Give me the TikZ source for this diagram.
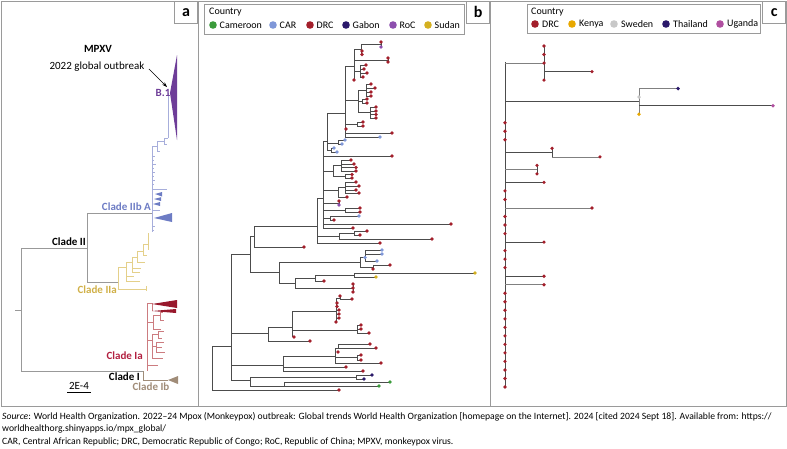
\documentclass[tikz,border=0pt]{standalone}
\usepackage{fontspec}
\setmainfont{Carlito}
\usetikzlibrary{arrows.meta}
\definecolor{drc}{HTML}{A31F2B}
\definecolor{car}{HTML}{7F97D8}
\definecolor{gab}{HTML}{2B1A6B}
\definecolor{roc}{HTML}{8D4FAE}
\definecolor{sud}{HTML}{D4B020}
\definecolor{cam}{HTML}{3B9B3B}
\definecolor{ken}{HTML}{E8A800}
\definecolor{swe}{HTML}{C8C8C8}
\definecolor{uga}{HTML}{B04FA0}
\definecolor{frm}{HTML}{9A9A9A}
\definecolor{blueL}{HTML}{A7AEDB}
\definecolor{blueT}{HTML}{6D7CC4}
\definecolor{purB}{HTML}{6E3D98}
\definecolor{yelL}{HTML}{E4D08A}
\definecolor{yelT}{HTML}{D0B048}
\definecolor{crL}{HTML}{CC7C80}
\definecolor{crT}{HTML}{B22040}
\definecolor{crD}{HTML}{98182C}
\definecolor{tanT}{HTML}{A08C78}
\newcommand\tdot[3]{\fill[#3] (#1,#2) circle (1.9);}
\newcommand\fA{\fontsize{11}{13}\selectfont}
\newcommand\fL{\fontsize{10}{12}\selectfont}
\newcommand\fC{\fontsize{9.65}{12}\selectfont}
\begin{document}
\begin{tikzpicture}[x=1pt,y=-1pt,
  frame/.style={draw=frm, line width=0.8pt},
  plbl/.style={draw=frm, line width=0.8pt, fill=white, minimum width=23, minimum height=22, inner sep=0pt, font=\fontsize{16}{16}\selectfont\bfseries},
  ga/.style={draw=gray!80, line width=0.8pt},
  bl/.style={draw=blueL, line width=0.7pt},
  yl/.style={draw=yelL, line width=0.7pt},
  cr/.style={draw=crL, line width=0.7pt},
  bb/.style={draw=black!70, line width=0.8pt},
  cb/.style={draw=black!70, line width=0.8pt},
  clab/.style={font=\fA\bfseries, inner sep=0pt},
  leg/.style={draw=frm, line width=0.8pt, fill=white}]
\useasboundingbox (0,0) rectangle (787,448);
% frames
\draw[frame] (1,1) rectangle (198,406);
\draw[frame] (198,1) rectangle (490,406);
\draw[frame] (490,1) rectangle (786,406);
\node[plbl, anchor=north east] (la) at (198,1) {a};
\node[plbl, anchor=north east] (lb) at (490,1) {b};
\node[plbl, anchor=north east] (lc) at (786,1) {c};

% ================= panel a =================
\draw[ga] (15,310) -- (21,310);
\draw[ga] (21,248) -- (21,371);
\draw[ga] (21,248) -- (87,248);
\draw[ga] (87,213) -- (87,282);
\draw[ga] (87,213) -- (152,213);
\draw[ga] (87,282) -- (118,282);
\draw[ga] (21,371) -- (143,371);
% clade IIb A (blue)
\draw[bl] (152,146) -- (152,232);
\draw[bl] (152,146) -- (157,146);
\draw[bl] (157,141) -- (157,151);
\draw[bl] (157,141) -- (164,141);
\draw[bl] (157,151) -- (160,151);
\draw[bl] (164,138) -- (164,144);
\draw[bl] (164,144) -- (167,144);
\draw[bl] (164,138) -- (168,138);
\draw[bl] (168,93) -- (168,138);
\foreach \yy/\ll in {156/3,160/2,164/4,168/2,172/3,176/2,180/3,184/2,226/3,230/2}
  \draw[bl] (152,\yy) -- ++(\ll,0);
\draw[bl] (152,189) -- (167,189);
\draw[bl] (152,210) -- (160,210);
\fill[blueT] (155,194) -- (162,192) -- (162,196.5) -- cycle;
\fill[blueT] (154,199) -- (161,197.2) -- (161,201) -- cycle;
\fill[blueT] (153,204) -- (160,202) -- (160,206) -- cycle;
\fill[blueT] (154,218) -- (172,213) -- (172,222) -- cycle;
% B.1
\fill[purB] (170,93) -- (177,55) -- (177,140) -- cycle;
% clade IIa (yellow)
\draw[yl] (118,267) -- (118,289);
\draw[yl] (118,289) -- (146,289);
\draw[yl] (146,286) -- (146,291);
\draw[yl] (118,267) -- (126,267);
\draw[yl] (126,262) -- (126,281);
\draw[yl] (126,281) -- (140,281);
\draw[yl] (126,276) -- (134,276);
\draw[yl] (126,262) -- (132,262);
\draw[yl] (132,257) -- (132,272);
\draw[yl] (132,272) -- (140,272);
\draw[yl] (132,268) -- (141,268);
\draw[yl] (132,257) -- (137,257);
\draw[yl] (137,251) -- (137,262);
\draw[yl] (137,262) -- (145,262);
\draw[yl] (137,251) -- (143,251);
\draw[yl] (143,244) -- (143,255);
\draw[yl] (143,255) -- (147,255);
\draw[yl] (143,244) -- (148,244);
\draw[yl] (148,233) -- (148,250);
% clade Ia (crimson)
\draw[cr] (147,303) -- (147,371);
\draw[cr] (147,303) -- (152,303);
\draw[cr] (152,303) -- (152,311);
\fill[crD] (152,304) -- (177,300) -- (177,308) -- cycle;
\fill[crD] (152,311) -- (176,309) -- (176,313) -- cycle;
\draw[cr] (147,322) -- (153,322);
\draw[cr] (153,315) -- (153,329);
\draw[cr] (153,315) -- (160,315);
\draw[cr] (160,312) -- (160,320);
\draw[cr] (160,312) -- (163,312);
\draw[cr] (160,320) -- (164,320);
\draw[cr] (153,329) -- (161,329);
\draw[cr] (147,340) -- (152,340);
\draw[cr] (152,334) -- (152,358);
\draw[cr] (152,334) -- (158,334);
\draw[cr] (158,331) -- (158,338);
\draw[cr] (158,331) -- (164,331);
\draw[cr] (158,338) -- (162,338);
\draw[cr] (152,346) -- (156,346);
\draw[cr] (156,342) -- (156,352);
\draw[cr] (156,342) -- (164,342);
\draw[cr] (156,347) -- (162,347);
\draw[cr] (156,352) -- (165,352);
\draw[cr] (152,358) -- (163,358);
\draw[cr] (147,365) -- (158,365);
% clade Ib (tan)
\draw[draw=tanT, line width=0.7pt] (143,371) -- (143,380) -- (168,380);
\fill[tanT] (168,380) -- (178,376) -- (178,384) -- cycle;
% labels panel a
\node[font=\fA\bfseries] (mpxv) at (98,49) {MPXV};
\node[font=\fA] (outb) at (97,67) {2022 global outbreak};
\coordinate (arrEnd) at (167,87);
\draw[-{Stealth[length=5pt,width=3.5pt]}, line width=0.6pt] (outb.east) ++(1,2) -- (arrEnd);
\node[clab, text=purB] (b1) at (163,93) {B.1};
\node[clab, text=blueT, anchor=east] (c2ba) at (151,207) {Clade IIb A};
\node[clab, anchor=east] (c2) at (86,242) {Clade II};
\node[clab, text=yelT, anchor=east] (c2a) at (117,290) {Clade IIa};
\node[clab, text=crT, anchor=east] (c1a) at (143,356) {Clade Ia};
\node[clab, anchor=east] (c1) at (140,377) {Clade I};
\node[clab, text=tanT] (c1b) at (151,387) {Clade Ib};
\node[font=\fA, inner sep=0pt] (sc) at (79,386) {2E-4};
\draw[line width=0.7pt] (67,392) -- (91,392);

% ================= panel b =================
\node[leg, anchor=north west, minimum width=260, minimum height=30] (legb) at (204,4) {};
\node[font=\fL, anchor=west, inner sep=0pt] (cb1) at (209,12) {Country};
\foreach \xx/\cc/\tt in {213/cam/Cameroon,273/car/CAR,310/drc/DRC,346/gab/Gabon,393/roc/RoC,428/sud/Sudan}{
  \fill[\cc] (\xx,25) circle (3.8);
  \node[font=\fL, anchor=west, inner sep=0pt] at (\xx+6.5,25) {\tt};
}
% root
\draw[bb] (212,346) -- (212,390);
\draw[bb] (212,390) -- (339,390); \tdot{339}{390}{drc}
\draw[bb] (212,346) -- (231,346);
% N1
\draw[bb] (231,254) -- (231,380);
\draw[bb] (231,254) -- (250,254);
\draw[bb] (231,333) -- (268,333);
\draw[bb] (231,365) -- (283,365);
\draw[bb] (231,380) -- (250,380);
% N2
\draw[bb] (250,236) -- (250,272);
\draw[bb] (250,236) -- (254,236);
\draw[bb] (250,272) -- (279,272);
% N4
\draw[bb] (279,262) -- (279,283);
\draw[bb] (279,262) -- (360,262);
\draw[bb] (279,283) -- (295,283);
\draw[bb] (360,257) -- (360,267);
\draw[bb] (360,257) -- (365,257);
\draw[bb] (365,250) -- (365,261);
\draw[bb] (365,250) -- (382,250); \tdot{382}{250}{car}
\draw[bb] (365,254) -- (382,254); \tdot{382}{254}{car}
\tdot{365}{257.5}{car}
\draw[bb] (365,261) -- (377,261); \tdot{377}{261}{car}
\draw[bb] (360,267) -- (373,267);
\draw[bb] (373,265) -- (373,269);
\draw[bb] (373,265) -- (390,265); \tdot{390}{265}{drc}
\tdot{373}{269}{drc}
\draw[bb] (295,278) -- (295,288);
\draw[bb] (295,278) -- (315,278);
\draw[bb] (315,275) -- (315,281);
\draw[bb] (315,275) -- (354,275);
\draw[bb] (354,273) -- (354,277);
\draw[bb] (354,273) -- (475,273); \tdot{475}{273}{sud}
\draw[bb] (354,277) -- (376,277); \tdot{376}{277}{sud}
\draw[bb] (315,281) -- (324,281); \tdot{324}{281}{drc}
\draw[bb] (295,288) -- (353,288);
\draw[bb] (353,284) -- (353,292);
\tdot{353}{284}{drc}\tdot{353}{288}{drc}\tdot{353}{292}{drc}
% N3
\draw[bb] (254,226) -- (254,247);
\draw[bb] (254,226) -- (317,226);
\draw[bb] (254,247) -- (304,247); \tdot{304}{247}{drc}
% Q
\draw[bb] (317,198) -- (317,243);
\draw[bb] (317,198) -- (323,198);
\draw[bb] (317,236) -- (339,236);
\draw[bb] (339,233) -- (339,239);
\draw[bb] (339,233) -- (354,233);
\draw[bb] (354,231) -- (354,235);
\draw[bb] (354,231) -- (367,231); \tdot{367}{231}{drc}
\draw[bb] (354,235) -- (360,235); \tdot{360}{235}{drc}
\draw[bb] (339,239) -- (432,239); \tdot{432}{239}{drc}
\draw[bb] (317,243) -- (380,243); \tdot{380}{243}{drc}
% R
\draw[bb] (323,141) -- (323,228);
\draw[bb] (323,141) -- (327,141);
\draw[bb] (323,156) -- (392,156); \tdot{392}{156}{drc}
\draw[bb] (323,171) -- (333,171);
\draw[bb] (333,165) -- (333,176);
\draw[bb] (333,165) -- (341,165);
\draw[bb] (341,160) -- (341,171);
\draw[bb] (341,160) -- (351,160); \tdot{351}{160}{drc}
\draw[bb] (341,164) -- (354,164); \tdot{354}{164}{drc}
\draw[bb] (341,167.5) -- (356,167.5); \tdot{356}{167.5}{drc}
\draw[bb] (341,171) -- (356,171); \tdot{356}{171}{drc}
\draw[bb] (333,176) -- (345,176);
\draw[bb] (345,174.5) -- (345,178);
\draw[bb] (345,174.5) -- (352,174.5); \tdot{352}{174.5}{drc}
\draw[bb] (345,178) -- (352,178); \tdot{352}{178}{drc}
\draw[bb] (323,190) -- (338,190);
\draw[bb] (338,187) -- (338,197);
\draw[bb] (338,187) -- (345,187);
\draw[bb] (345,182) -- (345,193);
\draw[bb] (345,182) -- (356,182); \tdot{356}{182}{drc}
\draw[bb] (345,186) -- (359,186); \tdot{359}{186}{drc}
\draw[bb] (345,190) -- (356,190); \tdot{356}{190}{drc}
\draw[bb] (345,193) -- (359,193); \tdot{359}{193}{drc}
\draw[bb] (338,197) -- (347,197); \tdot{347}{197}{drc}
\draw[bb] (323,203) -- (339,203);
\draw[bb] (339,201) -- (339,205);
\tdot{339}{201}{drc}\tdot{339}{205}{roc}
\draw[bb] (323,210) -- (345,210);
\draw[bb] (345,208) -- (345,212);
\draw[bb] (345,208) -- (360,208); \tdot{360}{208}{drc}
\draw[bb] (345,212) -- (360,212); \tdot{360}{212}{drc}
\draw[bb] (323,218) -- (330,218);
\draw[bb] (330,216) -- (330,220);
\draw[bb] (330,216) -- (359,216); \tdot{359}{216}{car}
\draw[bb] (330,220) -- (334,220); \tdot{334}{220}{drc}
\draw[bb] (323,224) -- (451,224); \tdot{451}{224}{drc}
\draw[bb] (323,228) -- (353,228); \tdot{353}{228}{drc}
% S
\draw[bb] (327,113) -- (327,150);
\draw[bb] (327,113) -- (345,113);
\draw[bb] (327,143) -- (338,143);
\draw[bb] (338,140) -- (338,144);
\draw[bb] (338,140) -- (345,140); \tdot{345}{140}{car}
\draw[bb] (338,144) -- (342,144); \tdot{342}{144}{car}
\draw[bb] (327,150) -- (331,150);
\draw[bb] (331,148) -- (331,152);
\draw[bb] (331,148) -- (334,148); \tdot{334}{148}{car}
\draw[bb] (331,152) -- (337,152); \tdot{337}{152}{car}
% T
\draw[bb] (345,66) -- (345,137);
\draw[bb] (345,66) -- (354,66);
\draw[bb] (354,49) -- (354,80);
\draw[bb] (354,49) -- (361,49);
\draw[bb] (361,44) -- (361,54);
\draw[bb] (361,44) -- (381,44);
\draw[bb] (381,42) -- (381,47);
\tdot{381}{42}{drc}\tdot{381}{47}{roc}
\tdot{362}{51}{drc}\tdot{362}{54.5}{drc}
\draw[bb] (354,60) -- (388,60);
\draw[bb] (388,58) -- (388,62);
\tdot{388}{58}{drc}\tdot{388}{62}{drc}
\draw[bb] (354,71) -- (360,71);
\draw[bb] (360,65) -- (360,77);
\draw[bb] (360,65) -- (366,65); \tdot{366}{65}{drc}
\draw[bb] (360,69) -- (364,69); \tdot{364}{69}{drc}
\draw[bb] (360,73) -- (367,73); \tdot{367}{73}{drc}
\draw[bb] (360,77) -- (363,77); \tdot{363}{77}{drc}
\tdot{354}{80}{drc}
\draw[bb] (345,100) -- (358,100);
\draw[bb] (358,90) -- (358,112);
\draw[bb] (358,90) -- (366,90);
\draw[bb] (366,84) -- (366,96);
\draw[bb] (366,84) -- (371,84); \tdot{371}{84}{drc}
\draw[bb] (366,88) -- (375,88); \tdot{375}{88}{drc}
\draw[bb] (366,92) -- (371,92); \tdot{371}{92}{drc}
\draw[bb] (366,96) -- (371,96); \tdot{371}{96}{drc}
\draw[bb] (358,101) -- (362,101);
\draw[bb] (362,99) -- (362,103);
\draw[bb] (362,99) -- (367,99); \tdot{367}{99}{drc}
\draw[bb] (362,103) -- (367,103); \tdot{367}{103}{drc}
\draw[bb] (358,112) -- (370,112);
\draw[bb] (370,107) -- (370,118);
\draw[bb] (370,107) -- (376,107); \tdot{376}{107}{drc}
\draw[bb] (370,111) -- (376,111); \tdot{376}{111}{drc}
\draw[bb] (370,114.5) -- (376,114.5); \tdot{376}{114.5}{drc}
\draw[bb] (370,118) -- (376,118); \tdot{376}{118}{drc}
\draw[bb] (345,124) -- (357,124);
\draw[bb] (357,122) -- (357,126);
\draw[bb] (357,122) -- (363,122); \tdot{363}{122}{drc}
\draw[bb] (357,126) -- (363,126); \tdot{363}{126}{drc}
\tdot{346}{129}{drc}
\draw[bb] (345,133) -- (392,133); \tdot{392}{133}{drc}
\draw[bb] (345,137) -- (380,137); \tdot{380}{137}{car}
% N5
\draw[bb] (268,327) -- (268,341);
\draw[bb] (268,327) -- (292,327);
\draw[bb] (292,311) -- (292,337);
\draw[bb] (292,311) -- (336,311);
\draw[bb] (336,298) -- (336,322);
\draw[bb] (336,298) -- (340,298);
\draw[bb] (340,296) -- (340,299);
\tdot{340}{296}{drc}
\draw[bb] (340,299) -- (352,299); \tdot{352}{299}{drc}
\tdot{337}{303}{drc}\tdot{337}{306.5}{drc}
\draw[bb] (336,310) -- (339,310); \tdot{339}{310}{drc}
\draw[bb] (336,314) -- (339,314); \tdot{339}{314}{drc}
\draw[bb] (336,318) -- (339,318); \tdot{339}{318}{drc}
\tdot{336}{322}{drc}
\draw[bb] (292,330) -- (357,330);
\draw[bb] (357,325) -- (357,333);
\draw[bb] (357,325) -- (361,325); \tdot{361}{325}{drc}
\draw[bb] (357,329) -- (361,329); \tdot{361}{329}{drc}
\draw[bb] (357,333) -- (369,333); \tdot{369}{333}{drc}
\tdot{294}{337}{drc}
\draw[bb] (268,341) -- (310,341); \tdot{310}{341}{drc}
% N6
\draw[bb] (283,356) -- (283,371);
\draw[bb] (283,356) -- (335,356);
\draw[bb] (335,348) -- (335,363);
\draw[bb] (335,348) -- (338,348);
\draw[bb] (338,344) -- (338,348);
\draw[bb] (338,344) -- (370,344); \tdot{370}{344}{drc}
\draw[bb] (338,348) -- (376,348); \tdot{376}{348}{drc}
\tdot{338}{352}{drc}
\draw[bb] (335,357.5) -- (357,357.5);
\draw[bb] (357,355) -- (357,360);
\draw[bb] (357,355) -- (361,355); \tdot{361}{355}{drc}
\draw[bb] (357,360) -- (361,360); \tdot{361}{360}{drc}
\draw[bb] (335,363) -- (381,363); \tdot{381}{363}{drc}
\draw[bb] (283,367) -- (346,367); \tdot{346}{367}{drc}
\draw[bb] (283,371) -- (363,371); \tdot{363}{371}{drc}
% N7
\draw[bb] (250,377) -- (250,386);
\draw[bb] (250,377) -- (356,377);
\draw[bb] (356,375) -- (356,379);
\draw[bb] (356,375) -- (372,375); \tdot{372}{375}{gab}
\draw[bb] (356,379) -- (364,379); \tdot{364}{379}{gab}
\draw[bb] (250,386) -- (284,386);
\draw[bb] (284,382) -- (284,386);
\draw[bb] (284,382) -- (390,382); \tdot{390}{382}{cam}
\draw[bb] (284,386) -- (379,386); \tdot{379}{386}{cam}

% ================= panel c =================
\node[leg, anchor=north west, minimum width=233, minimum height=29] (legc) at (527,4) {};
\node[font=\fL, anchor=west, inner sep=0pt] (cc1) at (531,12) {Country};
\foreach \xx/\cc/\tt in {535/drc/DRC,572/ken/Kenya,614/swe/Sweden,666/gab/Thailand,720/uga/Uganda}{
  \fill[\cc] (\xx,24) circle (3.8);
  \node[font=\fL, anchor=west, inner sep=0pt] at (\xx+7,24) {\tt};
}
\pgfmathsetmacro{\rs}{8.525}
\draw[cb] (505,62) -- (505,387);
\foreach \k in {9,10,11,17,18,20,21,22,24,25,26,29,30,31,32,33,34,35,36,37,38,39,40}
  \fill[drc] (505,{46+\rs*\k}) circle (1.8);
% top cluster
\draw[cb, draw=gray] (505,63.05) -- (544,63.05);
\draw[cb] (544,46) -- (544,80.1);
\draw[cb] (544,71.6) -- (592,71.6);
\foreach \k in {0,1,2,4} \fill[drc] (544,{46+\rs*\k}) circle (1.8);
\fill[drc] (592,71.6) circle (1.8);
% international cluster
\draw[cb] (505,101) -- (639,101);
\draw[cb, draw=gray] (639,88.6) -- (639,114.2);
\draw[cb, draw=gray] (639,88.6) -- (678,88.6); \fill[gab] (678,88.6) circle (1.9);
\draw[cb] (639,105.7) -- (773,105.7); \fill[uga] (773,105.7) circle (1.9);
\fill[swe] (639,97.1) circle (1.9);
\fill[ken] (639,114.2) circle (1.9);
% others
\draw[cb] (505,152.6) -- (552,152.6);
\draw[cb] (552,148.3) -- (552,156.9);
\fill[drc] (552,148.3) circle (1.8);
\draw[cb, draw=gray] (552,156.9) -- (600,156.9); \fill[drc] (600,156.9) circle (1.8);
\draw[cb, draw=gray] (505,169.5) -- (537,169.5);
\draw[cb] (537,165.4) -- (537,173.9);
\fill[drc] (537,165.4) circle (1.8); \fill[drc] (537,173.9) circle (1.8);
\draw[cb] (505,182.4) -- (544,182.4); \fill[drc] (544,182.4) circle (1.8);
\draw[cb, draw=gray] (505,208) -- (592,208); \fill[drc] (592,208) circle (1.8);
\draw[cb] (505,242.1) -- (544,242.1); \fill[drc] (544,242.1) circle (1.8);
\draw[cb] (505,276.2) -- (544,276.2); \fill[drc] (544,276.2) circle (1.8);
\draw[cb, draw=gray, line width=1.1pt] (505,284.7) -- (544,284.7); \fill[drc] (544,284.7) circle (1.8);

% ================= caption =================
\node[font=\fC, anchor=base west, inner sep=0pt] (cap1) at (2,419) {\textit{Source}: World Health Organization. 2022–24 Mpox (Monkeypox) outbreak: Global trends World Health Organization [homepage on the Internet]. 2024 [cited 2024 Sept 18]. Available from: https://};
\node[font=\fC, anchor=base west, inner sep=0pt] (cap2) at (2,431) {worldhealthorg.shinyapps.io/mpx\_global/};
\node[font=\fC, anchor=base west, inner sep=0pt] (cap3) at (2,444) {CAR, Central African Republic; DRC, Democratic Republic of Congo; RoC, Republic of China; MPXV, monkeypox virus.};
\end{tikzpicture}
\end{document}
